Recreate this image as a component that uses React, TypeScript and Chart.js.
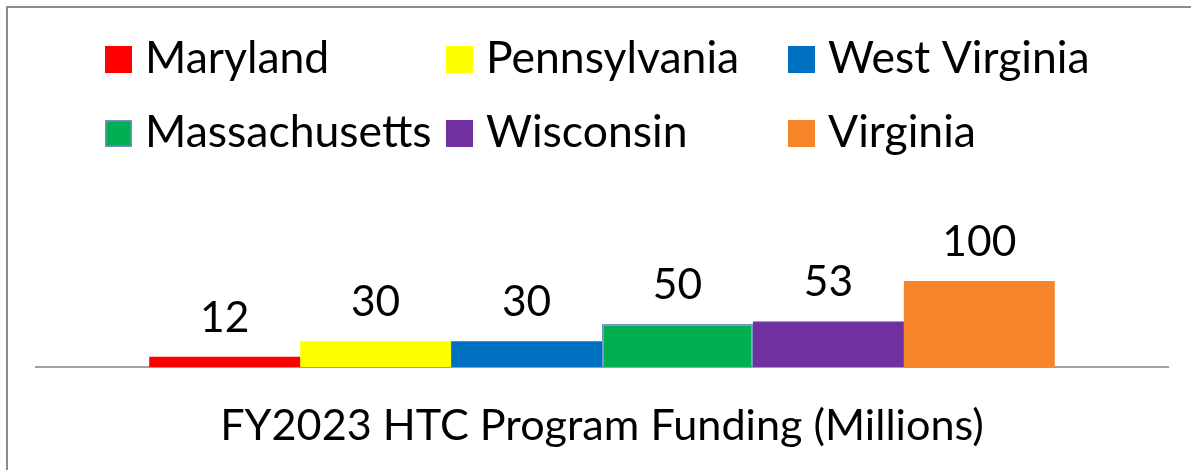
import React, { useEffect, useRef } from "react";
import { Chart, registerables } from "chart.js";

Chart.register(...registerables);

const categories = ["FY2023 HTC Program Funding (Millions)"];
const states = ["Maryland", "Pennsylvania", "West Virginia", "Massachusetts", "Wisconsin", "Virginia"];
const values = [12, 30, 30, 50, 53, 100];
const colors = ["#ff0000", "#ffff00", "#0070c0", "#00b050", "#7030a0", "#f6852a"];
const borderColors = ["#ff0000", "#ffff00", "#0070c0", "#7190c8", "#7030a0", "#f6852a"];
const borderWidths = [0, 0, 0, 1.5, 0, 0];

const FONT = "Lato, 'Open Sans', sans-serif";
const LEGEND_SIZE = 44.5;
const LABEL_SIZE = 42.5;
const AXIS_SIZE = 43.2;

const framePlugin = {
  id: "frame",
  beforeDraw(chart: any) {
    const ctx = chart.ctx;
    ctx.save();
    ctx.fillStyle = "#ffffff";
    ctx.fillRect(0, 0, chart.width, chart.height);
    ctx.strokeStyle = "#8c8c8c";
    ctx.lineWidth = 2;
    ctx.strokeRect(7, 7, chart.width + 50, chart.height + 50);
    ctx.restore();
  },
};

const gridLegendPlugin = {
  id: "gridLegend",
  afterDraw(chart: any) {
    const ctx = chart.ctx;
    const colX = [105, 446, 788];
    const rowBottom = [73, 147];
    const box = 27;
    ctx.save();
    ctx.font = `${LEGEND_SIZE}px ${FONT}`;
    ctx.textBaseline = "alphabetic";
    ctx.textAlign = "left";
    chart.data.datasets.forEach((ds: any, i: number) => {
      const c = i % 3;
      const r = Math.floor(i / 3);
      const x = colX[c];
      const yb = rowBottom[r];
      ctx.fillStyle = ds.backgroundColor;
      ctx.fillRect(x, yb - box, box, box);
      if (ds.borderWidth) {
        ctx.strokeStyle = ds.borderColor;
        ctx.lineWidth = ds.borderWidth;
        ctx.strokeRect(x + 0.75, yb - box + 0.75, box - 1.5, box - 1.5);
      }
      ctx.fillStyle = "#000000";
      ctx.fillText(ds.label, x + box + 13, yb);
    });
    ctx.restore();
  },
};

const valueLabelPlugin = {
  id: "valueLabels",
  afterDatasetsDraw(chart: any) {
    const ctx = chart.ctx;
    ctx.save();
    ctx.font = `${LABEL_SIZE}px ${FONT}`;
    ctx.fillStyle = "#000000";
    ctx.textAlign = "center";
    ctx.textBaseline = "alphabetic";
    chart.data.datasets.forEach((ds: any, i: number) => {
      const meta = chart.getDatasetMeta(i);
      meta.data.forEach((bar: any, j: number) => {
        ctx.fillText(String(ds.data[j]), bar.x, bar.y - 25);
      });
    });
    ctx.restore();
  },
};

export default function App() {
  const ref = useRef<HTMLCanvasElement>(null);
  useEffect(() => {
    if (!ref.current) return;
    const chart = new Chart(ref.current, {
      type: "bar",
      data: {
        labels: categories,
        datasets: states.map((s, i) => ({
          label: s,
          data: [values[i]],
          backgroundColor: colors[i],
          borderColor: borderColors[i],
          borderWidth: borderWidths[i],
          categoryPercentage: 0.8,
          barPercentage: 1,
        })),
      },
      options: {
        animation: false,
        responsive: true,
        maintainAspectRatio: false,
        layout: { padding: { left: 36, right: 23, top: 195, bottom: 0 } },
        plugins: {
          legend: { display: false },
          tooltip: { enabled: false },
          title: { display: false },
        },
        scales: {
          x: {
            grid: { display: false, drawTicks: false },
            border: { display: true, color: "#a0a0a0", width: 2 },
            ticks: {
              color: "#000000",
              font: { family: FONT, size: AXIS_SIZE },
              padding: 33,
              maxRotation: 0,
              autoSkip: false,
            },
            afterFit(scale: any) {
              scale.height = 103;
            },
          },
          y: {
            display: false,
            min: 0,
            max: 200,
          },
        },
      },
      plugins: [framePlugin, gridLegendPlugin, valueLabelPlugin],
    });
    return () => chart.destroy();
  }, []);
  return (
    <div style={{ position: "absolute", left: 0, top: 0, width: 1191, height: 470 }}>
      <canvas ref={ref} />
    </div>
  );
}
